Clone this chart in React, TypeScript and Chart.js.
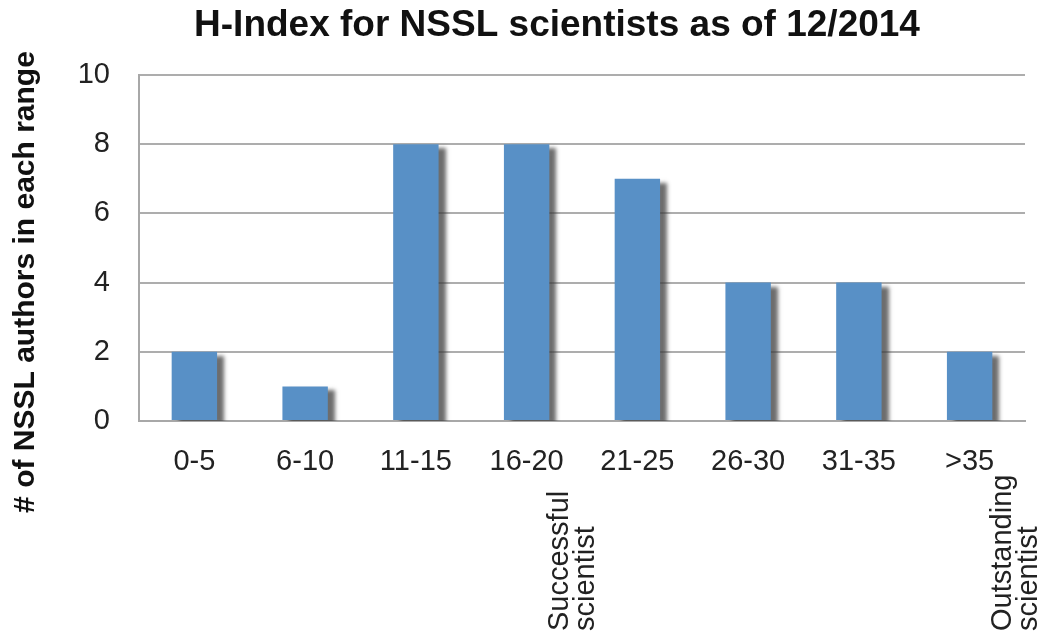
import React, { useEffect, useRef } from "react";
import { Chart, registerables } from "chart.js";

Chart.register(...registerables);

const categories = ["0-5", "6-10", "11-15", "16-20", "21-25", "26-30", "31-35", ">35"];
const counts = [2, 1, 8, 8, 7, 4, 4, 2];
const yMin = 0;
const yMax = 10;
const yStep = 2;
const titleText = "H-Index for NSSL scientists as of 12/2014";
const yAxisTitle = "# of NSSL authors in each range";
const noteCategories = ["16-20", ">35"];
const noteLines = [
  ["Successful", "scientist"],
  ["Outstanding", "scientist"],
];

const FONT = '"Liberation Sans", Arial, Helvetica, sans-serif';
const NARROW = '"Liberation Sans Narrow", "Arial Narrow", "Liberation Sans", sans-serif';

const textPlugin = {
  id: "customTexts",
  beforeDatasetsDraw(chart: any) {
    const ctx = chart.ctx;
    ctx.save();
    ctx.shadowColor = "rgba(60,60,60,0.75)";
    ctx.shadowOffsetX = 7;
    ctx.shadowOffsetY = 4;
    ctx.shadowBlur = 4;
  },
  afterDatasetsDraw(chart: any) {
    chart.ctx.restore();
  },
  afterDraw(chart: any) {
    const ctx = chart.ctx;
    ctx.save();
    ctx.fillStyle = "#111";
    ctx.font = `bold 37px ${FONT}`;
    ctx.textAlign = "center";
    ctx.textBaseline = "middle";
    ctx.fillText(titleText, 557, 26);

    ctx.save();
    ctx.font = `bold 30px ${FONT}`;
    ctx.translate(26, 282);
    ctx.rotate(-Math.PI / 2);
    ctx.fillText(yAxisTitle, 0, 0);
    ctx.restore();

    const xs = chart.scales.x;
    ctx.font = `29px ${NARROW}`;
    ctx.fillStyle = "#222";
    ctx.textAlign = "left";
    ctx.textBaseline = "alphabetic";
    noteCategories.forEach((cat, i) => {
      const idx = categories.indexOf(cat);
      const cx = xs.getPixelForValue(idx);
      noteLines[i].forEach((line, j) => {
        ctx.save();
        ctx.translate(cx + 41 + j * 26, 631);
        ctx.rotate(-Math.PI / 2);
        ctx.fillText(line, 0, 0);
        ctx.restore();
      });
    });
    ctx.restore();
  },
};

export default function App() {
  const ref = useRef<HTMLCanvasElement>(null);
  useEffect(() => {
    if (!ref.current) return;
    const chart = new Chart(ref.current, {
      type: "bar",
      data: {
        labels: categories,
        datasets: [
          {
            data: counts,
            backgroundColor: "#5890c6",
            borderWidth: 0,
            barPercentage: 0.41,
            categoryPercentage: 1,
          },
        ],
      },
      options: {
        responsive: true,
        maintainAspectRatio: false,
        animation: false,
        layout: { padding: { top: 75, right: 16, left: 0, bottom: 0 } },
        plugins: {
          legend: { display: false },
          title: { display: false },
          tooltip: { enabled: false },
        },
        scales: {
          x: {
            grid: { display: false, drawTicks: false },
            border: { display: true, color: "#a8a8a8", width: 2 },
            ticks: {
              color: "#222",
              font: { size: 29, family: FONT },
              padding: 24,
              maxRotation: 0,
            },
            afterFit: (s: any) => {
              s.height = 214;
            },
          },
          y: {
            min: yMin,
            max: yMax,
            grid: { color: "#adadad", lineWidth: 2, drawTicks: false },
            border: { display: true, color: "#a8a8a8", width: 2 },
            ticks: {
              stepSize: yStep,
              color: "#222",
              font: { size: 29, family: FONT },
              padding: 29,
            },
            afterFit: (s: any) => {
              s.width = 139;
            },
          },
        },
      },
      plugins: [textPlugin],
    });
    return () => chart.destroy();
  }, []);
  return (
    <div style={{ position: "fixed", left: 0, top: 0, width: 1041, height: 635, background: "#fff" }}>
      <canvas ref={ref} />
    </div>
  );
}
